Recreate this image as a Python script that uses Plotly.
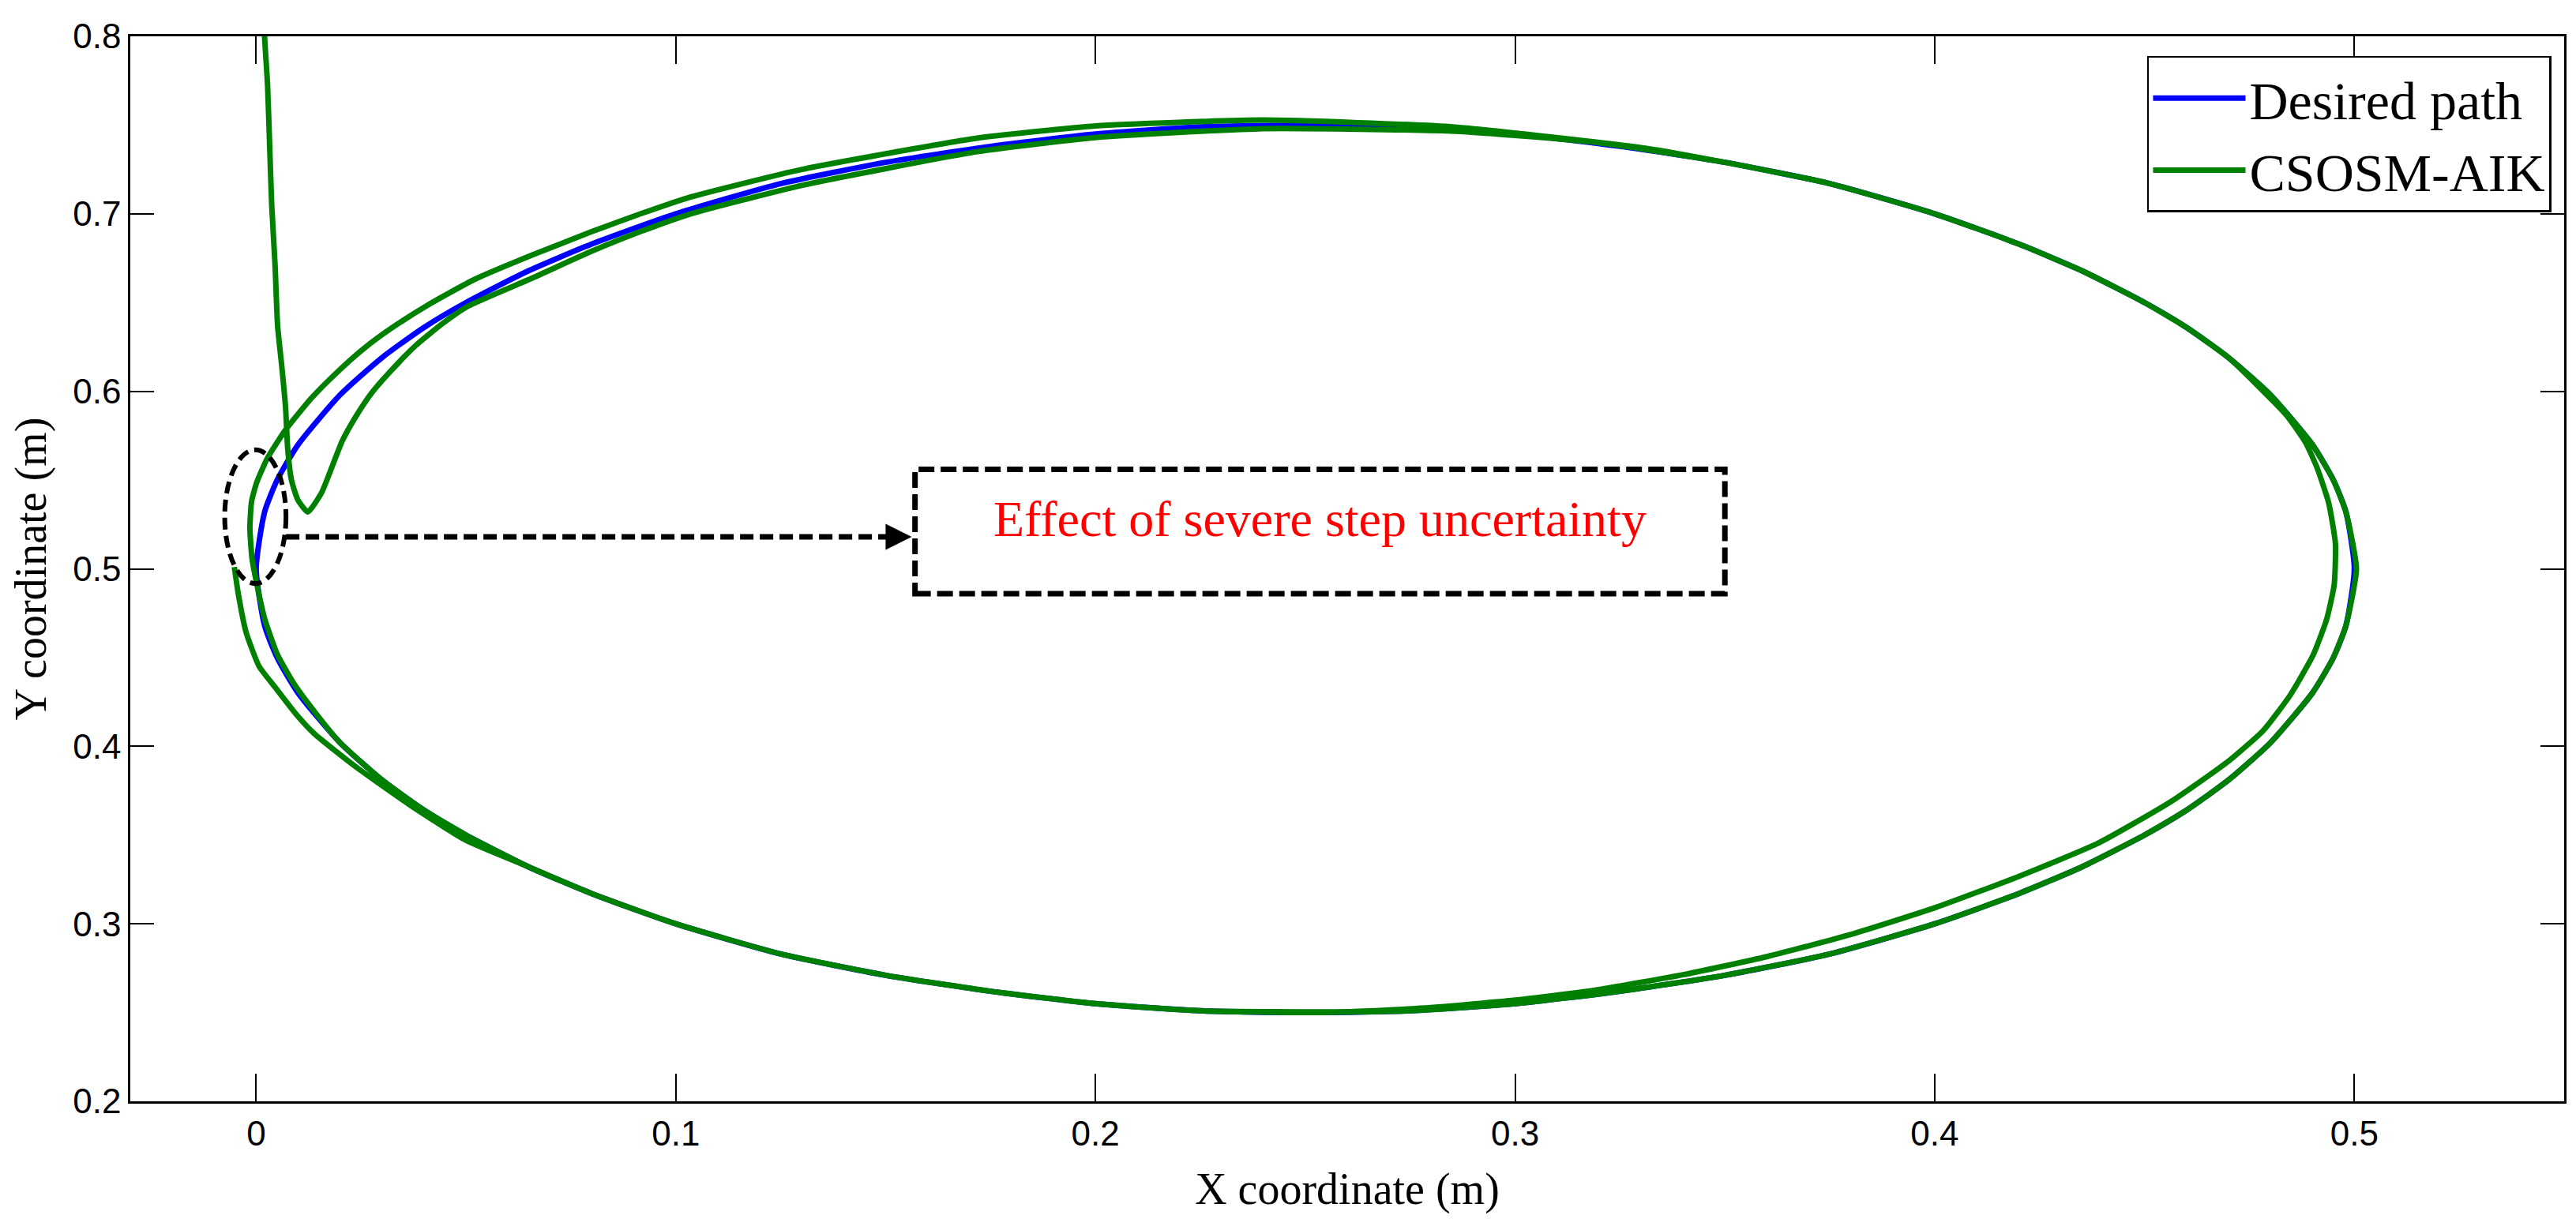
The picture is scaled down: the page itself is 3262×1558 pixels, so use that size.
import plotly.graph_objects as go

# ---------------- data ----------------
desired_x = [0.000, 0.002, 0.005, 0.010, 0.020, 0.030, 0.040, 0.050, 0.065, 0.080,
             0.100, 0.125, 0.150, 0.175, 0.200, 0.225, 0.250, 0.275, 0.300, 0.325,
             0.350, 0.375, 0.400, 0.420, 0.435, 0.450, 0.460, 0.470, 0.480, 0.490,
             0.495, 0.498, 0.500, 0.498, 0.495, 0.490, 0.480, 0.470, 0.460, 0.450,
             0.435, 0.420, 0.400, 0.375, 0.350, 0.325, 0.300, 0.275, 0.250, 0.225,
             0.200, 0.175, 0.150, 0.125, 0.100, 0.080, 0.065, 0.050, 0.040, 0.030,
             0.020, 0.010, 0.005, 0.002, 0.000]
desired_y = [0.500, 0.532, 0.550, 0.570, 0.598, 0.619, 0.636, 0.650, 0.668, 0.683,
             0.700, 0.717, 0.729, 0.738, 0.745, 0.749, 0.750, 0.749, 0.745, 0.738,
             0.729, 0.717, 0.700, 0.683, 0.668, 0.650, 0.636, 0.619, 0.598, 0.570,
             0.550, 0.532, 0.500, 0.468, 0.450, 0.430, 0.402, 0.381, 0.364, 0.350,
             0.332, 0.317, 0.300, 0.283, 0.271, 0.262, 0.255, 0.251, 0.250, 0.251,
             0.255, 0.262, 0.271, 0.283, 0.300, 0.317, 0.332, 0.350, 0.364, 0.381,
             0.402, 0.430, 0.450, 0.468, 0.500]

csosm_x = [
    # initial transient, coming down from above the plot
    0.0019, 0.0020, 0.0027, 0.0032, 0.0037, 0.0045, 0.0051, 0.0061, 0.0070, 0.0075,
    0.0084, 0.0099, 0.0123, 0.0156, 0.0180, 0.0205, 0.0238, 0.0275, 0.0319, 0.0381,
    0.0443, 0.0505, 0.0660, 0.0800, 0.0916, 0.1036, 0.1300, 0.1718, 0.2000, 0.2400,
    0.2856, 0.3200,
    # first lap, on the desired path
    0.350, 0.375, 0.400, 0.420, 0.435, 0.450, 0.460, 0.470, 0.480, 0.490,
    0.495, 0.498, 0.5005, 0.498, 0.495, 0.490, 0.480, 0.470, 0.460, 0.450,
    0.435, 0.420, 0.400, 0.375, 0.350, 0.325, 0.300, 0.275, 0.250, 0.225,
    0.200, 0.175, 0.150, 0.125, 0.100, 0.080, 0.065, 0.050, 0.040, 0.030,
    0.020, 0.0144, 0.0088, 0.0050, 0.0020, 0.0001,
    # step uncertainty, second lap (outer on the upper left)
    -0.0010, -0.0015, -0.0011, 0.0001, 0.0026, 0.0069, 0.0131, 0.0194, 0.0256, 0.0325,
    0.0412, 0.0520, 0.0660, 0.0800, 0.0916, 0.1036, 0.1300, 0.1718, 0.2000, 0.2400,
    0.2856, 0.3310, 0.350, 0.375, 0.400, 0.420, 0.435, 0.450, 0.460, 0.470,
    # inner on the right and lower right
    0.4838, 0.4884, 0.4911, 0.4939, 0.4955, 0.4952, 0.4934, 0.4902, 0.4847, 0.4783,
    0.4701, 0.4564, 0.4390, 0.4200, 0.4000, 0.3800, 0.3600, 0.3400, 0.3200, 0.3000,
    0.2800, 0.2600,
    # bottom on the desired path, then outer on the lower left
    0.225, 0.200, 0.175, 0.150, 0.125, 0.100, 0.080, 0.064, 0.050, 0.0366,
    0.0240, 0.0139, 0.0094, 0.0045, 0.0007, -0.0024, -0.0043, -0.0052]
csosm_y = [
    0.815, 0.800, 0.773, 0.739, 0.705, 0.671, 0.637, 0.614, 0.591, 0.568,
    0.550, 0.539, 0.532, 0.543, 0.557, 0.572, 0.586, 0.599, 0.611, 0.626,
    0.638, 0.648, 0.664, 0.679, 0.690, 0.700, 0.716, 0.735, 0.743, 0.748,
    0.7465, 0.740,
    0.729, 0.717, 0.700, 0.683, 0.668, 0.650, 0.636, 0.619, 0.598, 0.570,
    0.550, 0.532, 0.500, 0.468, 0.450, 0.430, 0.402, 0.381, 0.364, 0.350,
    0.332, 0.317, 0.300, 0.283, 0.271, 0.262, 0.255, 0.251, 0.250, 0.251,
    0.255, 0.262, 0.271, 0.283, 0.300, 0.317, 0.332, 0.350, 0.364, 0.381,
    0.402, 0.418, 0.436, 0.452, 0.472, 0.492,
    0.506, 0.523, 0.538, 0.5485, 0.562, 0.578, 0.596, 0.611, 0.624, 0.636,
    0.649, 0.663, 0.677, 0.690, 0.700, 0.7095, 0.725, 0.7426, 0.7495, 0.7528,
    0.7489, 0.737, 0.729, 0.717, 0.700, 0.683, 0.668, 0.650, 0.636, 0.619,
    0.5866, 0.571, 0.557, 0.537, 0.514, 0.491, 0.4715, 0.4515, 0.4288, 0.4089,
    0.3918, 0.369, 0.3455, 0.3267, 0.309, 0.294, 0.2815, 0.2713, 0.263, 0.257,
    0.2528, 0.2505,
    0.251, 0.255, 0.262, 0.271, 0.283, 0.300, 0.317, 0.333, 0.347, 0.367,
    0.388, 0.407, 0.4184, 0.4333, 0.445, 0.4642, 0.4864, 0.501]

x_ticks = [0, 0.1, 0.2, 0.3, 0.4, 0.5]
x_ticklabels = ["0", "0.1", "0.2", "0.3", "0.4", "0.5"]
y_ticks = [0.2, 0.3, 0.4, 0.5, 0.6, 0.7, 0.8]
y_ticklabels = ["0.2", "0.3", "0.4", "0.5", "0.6", "0.7", "0.8"]

note_text = "Effect of severe step uncertainty"

# ---------------- figure ----------------
SERIF = "Liberation Serif"
SANS = "Liberation Sans"

fig = go.Figure()
fig.add_trace(go.Scatter(
    x=desired_x, y=desired_y, mode="lines", name="Desired path",
    line=dict(color="#0000FF", width=7, shape="spline", smoothing=0.6)))
fig.add_trace(go.Scatter(
    x=csosm_x, y=csosm_y, mode="lines", name="CSOSM-AIK",
    line=dict(color="#008000", width=7, shape="spline", smoothing=0.5)))

axis_common = dict(
    showline=True, linecolor="black", linewidth=2.5, mirror="ticks",
    ticks="inside", tickwidth=1.5, tickcolor="black",
    showgrid=False, zeroline=False,
    tickfont=dict(family=SANS, size=44, color="black"),
)

fig.update_layout(
    width=3262, height=1558,
    margin=dict(l=157, r=23, t=38, b=171),
    paper_bgcolor="white", plot_bgcolor="white",
    xaxis=dict(range=[-0.03, 0.55], tickvals=x_ticks, ticktext=x_ticklabels,
               ticklen=35,
               title=dict(text="X coordinate (m)", standoff=28,
                          font=dict(family=SERIF, size=56, color="black")),
               **axis_common),
    yaxis=dict(range=[0.2, 0.8], tickvals=y_ticks, ticktext=y_ticklabels,
               ticklen=30,
               title=dict(text="Y coordinate (m)", standoff=16,
                          font=dict(family=SERIF, size=56, color="black")),
               **axis_common),
    legend=dict(x=0.9948, y=0.9815, xanchor="right", yanchor="top",
                bgcolor="white", bordercolor="black", borderwidth=2.5,
                font=dict(family=SERIF, size=68, color="black"),
                itemwidth=117, tracegroupgap=0),
    showlegend=True,
)

# dashed ellipse around the disturbance
fig.add_shape(type="circle", xref="x", yref="y",
              x0=-0.0075, x1=0.0071, y0=0.4917, y1=0.567,
              line=dict(color="black", width=6, dash="15px,8px"))
# dashed connector line
fig.add_shape(type="line", xref="x", yref="y",
              x0=0.0071, x1=0.151, y0=0.518, y1=0.518,
              line=dict(color="black", width=7, dash="17px,8px"))
# dashed note box
fig.add_shape(type="rect", xref="x", yref="y",
              x0=0.157, x1=0.350, y0=0.486, y1=0.556,
              line=dict(color="black", width=7, dash="20px,8px"))

# arrow head at the note box
fig.add_annotation(x=0.1562, y=0.518, ax=0.148, ay=0.518,
                   xref="x", yref="y", axref="x", ayref="y",
                   text="", showarrow=True, arrowhead=2, arrowsize=1.1,
                   arrowwidth=6, arrowcolor="black")
# note text
fig.add_annotation(x=0.2535, y=0.528, xref="x", yref="y",
                   text=note_text, showarrow=False,
                   font=dict(family=SERIF, size=64, color="#FF0000"))

fig.write_html("out.html")
